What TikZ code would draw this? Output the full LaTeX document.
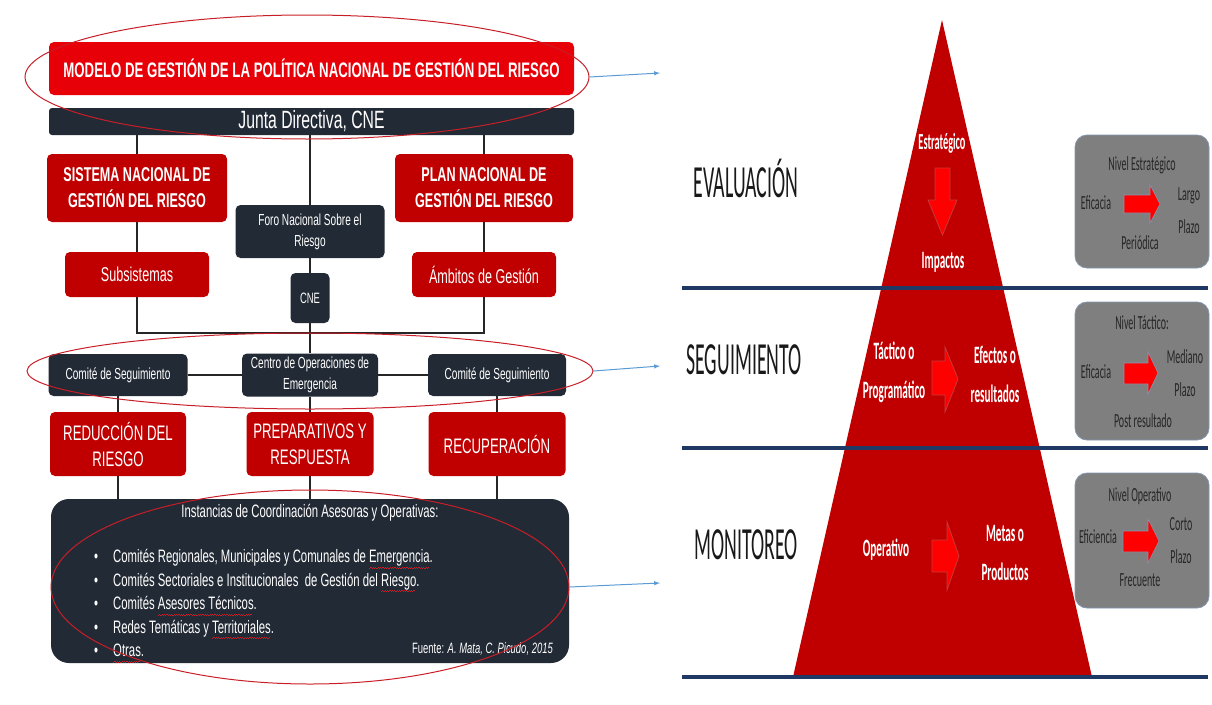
\documentclass[tikz,border=0pt]{standalone}
\usepackage{fontspec}
\usetikzlibrary{shapes.geometric}
\setmainfont{Liberation Sans}
\newfontfamily\leftfont[FakeStretch=0.63]{Liberation Sans}
\newfontfamily\rightfont[FakeStretch=0.45]{Carlito}
\newfontfamily\levelfont[FakeStretch=0.43]{Carlito}
\newfontfamily\grayfont[FakeStretch=0.5]{Carlito}

\definecolor{brightred}{RGB}{232,0,8}
\definecolor{darkred}{RGB}{192,0,0}
\definecolor{navyfill}{RGB}{34,42,53}
\definecolor{levelblue}{RGB}{31,56,100}
\definecolor{linkblue}{RGB}{91,155,213}
\definecolor{boxgray}{RGB}{127,127,127}
\definecolor{boxedge}{RGB}{132,150,176}
\definecolor{ovalred}{RGB}{200,30,40}

\newcommand\redwave[1]{\setbox0\hbox{#1}\rlap{\color{ovalred}%
  \leaders\hbox{\rule[-5.5pt]{1.2pt}{0.6pt}\rule[-4.5pt]{1.2pt}{0.6pt}}\hskip\wd0}\box0}

\begin{document}
\begin{tikzpicture}[x=1pt,y=-1pt]
  \tikzstyle{redbox}=[rectangle, rounded corners=5pt, fill=darkred, text=white,
    inner sep=0pt, align=center, font=\leftfont\fontsize{20}{26}\selectfont]
  \tikzstyle{darkbox}=[rectangle, rounded corners=5pt, fill=navyfill, text=white,
    inner sep=0pt, align=center, font=\leftfont\fontsize{16}{21}\selectfont]
  \tikzstyle{conn}=[line width=1.6pt, black!85]
  \tikzstyle{oval}=[ellipse, draw=ovalred, line width=1pt, inner sep=0pt]
  \tikzstyle{link}=[-latex, linkblue, line width=1pt]
  \tikzstyle{levelline}=[levelblue, line width=3.5pt]
  \tikzstyle{levelname}=[inner sep=0pt, text=black!90,
    font=\levelfont\fontsize{46}{46}\selectfont]
  \tikzstyle{pyrtext}=[inner sep=0pt, text=white, align=center,
    font=\rightfont\bfseries\fontsize{25}{39}\selectfont]
  \tikzstyle{graybox}=[rectangle, rounded corners=12pt, fill=boxgray,
    draw=boxedge, line width=0.8pt]
  \tikzstyle{graytext}=[inner sep=0pt, text=black!85, align=center,
    font=\grayfont\fontsize{20}{33}\selectfont]
  \tikzstyle{bigarrow}=[fill=red, draw=red!55!gray, line width=0.8pt]
  \tikzstyle{smallarrow}=[fill=red, draw=boxedge, line width=0.6pt]

  \useasboundingbox (0,0) rectangle (1212,704);

  % left chart
  \node[redbox, fill=brightred, minimum width=525pt, minimum height=53pt,
    font=\leftfont\bfseries\fontsize{21}{25}\selectfont] (modelo) at (311.5,68.5)
    {MODELO DE GESTIÓN DE LA POLÍTICA NACIONAL DE GESTIÓN DEL RIESGO};
  \node[darkbox, rounded corners=3pt, minimum width=525pt, minimum height=27pt,
    font=\leftfont\fontsize{25}{25}\selectfont] (junta) at (311.5,121.5)
    {Junta Directiva, CNE};
  \node[redbox, minimum width=180pt, minimum height=68pt,
    font=\leftfont\bfseries\fontsize{20}{26}\selectfont] (sistema) at (137,188)
    {SISTEMA NACIONAL DE\\GESTIÓN DEL RIESGO};
  \node[redbox, minimum width=178pt, minimum height=68pt,
    font=\leftfont\bfseries\fontsize{20}{26}\selectfont] (plan) at (484,188)
    {PLAN NACIONAL DE\\GESTIÓN DEL RIESGO};
  \node[darkbox, minimum width=149pt, minimum height=53pt] (foro) at (310,231.5)
    {Foro Nacional Sobre el\\Riesgo};
  \node[redbox, minimum width=144pt, minimum height=45pt] (subsistemas) at (137,274.5)
    {Subsistemas};
  \node[redbox, minimum width=144pt, minimum height=45pt] (ambitos) at (484,274.5)
    {Ámbitos de Gestión};
  \node[darkbox, minimum width=39pt, minimum height=50pt,
    font=\leftfont\fontsize{15}{18}\selectfont] (cne) at (310,298) {CNE};
  \coordinate (bus) at (310,333);

  \node[darkbox, minimum width=139pt, minimum height=42pt] (comiteL) at (118,375)
    {Comité de Seguimiento};
  \node[darkbox, minimum width=136pt, minimum height=43pt] (centro) at (310,375)
    {Centro de Operaciones de\\Emergencia};
  \node[darkbox, minimum width=138pt, minimum height=42pt] (comiteR) at (497,375)
    {Comité de Seguimiento};
  \node[redbox, minimum width=136pt, minimum height=64pt,
    font=\leftfont\fontsize{21}{26}\selectfont] (reduccion) at (118,444)
    {REDUCCIÓN DEL\\RIESGO};
  \node[redbox, minimum width=127pt, minimum height=64pt,
    font=\leftfont\fontsize{21}{26}\selectfont] (preparativos) at (310,444)
    {PREPARATIVOS Y\\RESPUESTA};
  \node[redbox, minimum width=137pt, minimum height=64pt,
    font=\leftfont\fontsize{21}{26}\selectfont] (recuperacion) at (497,444)
    {RECUPERACIÓN};

  \node[darkbox, rounded corners=18pt, minimum width=518pt, minimum height=164pt]
    (instancias) at (310,581) {};
  \node[inner sep=0pt, text=white, font=\leftfont\fontsize{18}{22}\selectfont]
    (instanciastitle) at (310,513) {Instancias de Coordinación Asesoras y Operativas:};
  \node[inner sep=0pt, text=white, anchor=west, align=left,
    font=\leftfont\fontsize{18}{23.5}\selectfont] (instanciaslist) at (94,606)
    {\makebox[19pt][l]{\textbullet}Comités Regionales, Municipales y Comunales de \redwave{Emergencia}.\\
     \makebox[19pt][l]{\textbullet}Comités Sectoriales e Institucionales\ \ de Gestión del \redwave{Riesgo}.\\
     \makebox[19pt][l]{\textbullet}Comités \redwave{Asesores Técnicos}.\\
     \makebox[19pt][l]{\textbullet}Redes Temáticas y \redwave{Territoriales}.\\
     \makebox[19pt][l]{\textbullet}\redwave{Otras}.};
  \node[inner sep=0pt, text=white, anchor=east,
    font=\leftfont\fontsize{15}{18}\selectfont] (fuente) at (553,649)
    {Fuente: \textit{A. Mata, C. Picudo, 2015}};

  \draw[conn] (sistema.north) -- (sistema.north |- junta.south);
  \draw[conn] (foro.north) -- (foro.north |- junta.south);
  \draw[conn] (plan.north) -- (plan.north |- junta.south);
  \draw[conn] (sistema.south) -- (subsistemas.north);
  \draw[conn] (plan.south) -- (ambitos.north);
  \draw[conn] (foro.south) -- (cne.north);
  \draw[conn] (subsistemas.south) |- (bus) -| (ambitos.south);
  \draw[conn] (cne.south) -- (centro.north);
  \draw[conn] (comiteL.east) -- (centro.west);
  \draw[conn] (centro.east) -- (comiteR.west);
  \draw[conn] (comiteL.south) -- (reduccion.north);
  \draw[conn] (centro.south) -- (preparativos.north);
  \draw[conn] (comiteR.south) -- (recuperacion.north);
  \draw[conn] (reduccion.south) -- (reduccion.south |- instancias.north);
  \draw[conn] (preparativos.south) -- (preparativos.south |- instancias.north);
  \draw[conn] (recuperacion.south) -- (recuperacion.south |- instancias.north);

  \node[oval, minimum width=564pt, minimum height=124pt] (ovaltop) at (307,77) {};
  \node[oval, minimum width=566pt, minimum height=76pt] (ovalmid) at (310,371) {};
  \node[oval, minimum width=518pt, minimum height=194pt] (ovallow) at (310,587) {};

  \coordinate (evaltip) at (660,73);
  \coordinate (segtip) at (660,366);
  \coordinate (montip) at (660,583);
  \draw[link] (ovaltop.east) -- (evaltip);
  \draw[link] (ovalmid.east) -- (segtip);
  \draw[link] (ovallow.east) -- (montip);

  % pyramid
  \fill[darkred] (942,20) -- (1092,677) -- (793,677) -- cycle;
  \draw[levelline] (682,288) -- (1208,288);
  \draw[levelline] (682,448) -- (1208,448);
  \draw[levelline] (682,677) -- (1208,677);

  \node[levelname] (evaluacion) at (746,178) {EVALUACIÓN};
  \node[levelname] (seguimiento) at (744,360) {SEGUIMIENTO};
  \node[levelname] (monitoreo) at (746,545) {MONITOREO};

  \node[pyrtext, font=\rightfont\bfseries\fontsize{23}{26}\selectfont]
    (estrategico) at (942,143) {Estratégico};
  \node[pyrtext] (impactos) at (943,262) {Impactos};
  \node[pyrtext] (tactico) at (894,372) {Táctico o\\Programático};
  \node[pyrtext] (efectos) at (995,374) {Efectos o\\resultados};
  \node[pyrtext] (operativo) at (886,550) {Operativo};
  \node[pyrtext] (metas) at (1005,553) {Metas o\\Productos};

  \filldraw[bigarrow] (935,168) -- (950,168) -- (950,200) -- (957,200)
    -- (942.5,235) -- (928,200) -- (935,200) -- cycle;
  \filldraw[bigarrow] (932,361) -- (945,361) -- (945,347) -- (958,379)
    -- (945,412) -- (945,395) -- (932,395) -- cycle;
  \filldraw[bigarrow] (932,540) -- (947,540) -- (947,522) -- (959,556)
    -- (947,590) -- (947,572) -- (932,572) -- cycle;

  % level boxes
  \node[graybox, minimum width=134pt, minimum height=133pt] (estbox) at (1142,201.5) {};
  \node[graytext] (nivelest) at (1142,165) {Nivel Estratégico};
  \node[graytext] (eficacia) at (1096,203) {Eficacia};
  \node[graytext] (largo) at (1189,211) {Largo\\Plazo};
  \node[graytext] (periodica) at (1140,243) {Periódica};
  \filldraw[smallarrow] (1124,195) -- (1150,195) -- (1150,185) -- (1160,204)
    -- (1150,223) -- (1150,213) -- (1124,213) -- cycle;

  \node[graybox, minimum width=134pt, minimum height=138pt] (tacbox) at (1142,371) {};
  \node[graytext] (niveltac) at (1142,323) {Nivel Táctico:};
  \node[graytext] (eficaciatac) at (1096,372) {Eficacia};
  \node[graytext] (mediano) at (1185,373) {Mediano\\Plazo};
  \node[graytext] (post) at (1143,421) {Post resultado};
  \filldraw[smallarrow] (1124,363) -- (1148,363) -- (1148,352) -- (1158,373)
    -- (1148,394) -- (1148,384) -- (1124,384) -- cycle;

  \node[graybox, minimum width=134pt, minimum height=135pt] (opbox) at (1142,540.5) {};
  \node[graytext] (nivelop) at (1140,496) {Nivel Operativo};
  \node[graytext] (eficiencia) at (1098,537) {Eficiencia};
  \node[graytext] (corto) at (1181,541) {Corto\\Plazo};
  \node[graytext] (frecuente) at (1140,580) {Frecuente};
  \filldraw[smallarrow] (1123,531) -- (1148,531) -- (1148,519) -- (1159,541)
    -- (1148,563) -- (1148,552) -- (1123,552) -- cycle;
\end{tikzpicture}
\end{document}
